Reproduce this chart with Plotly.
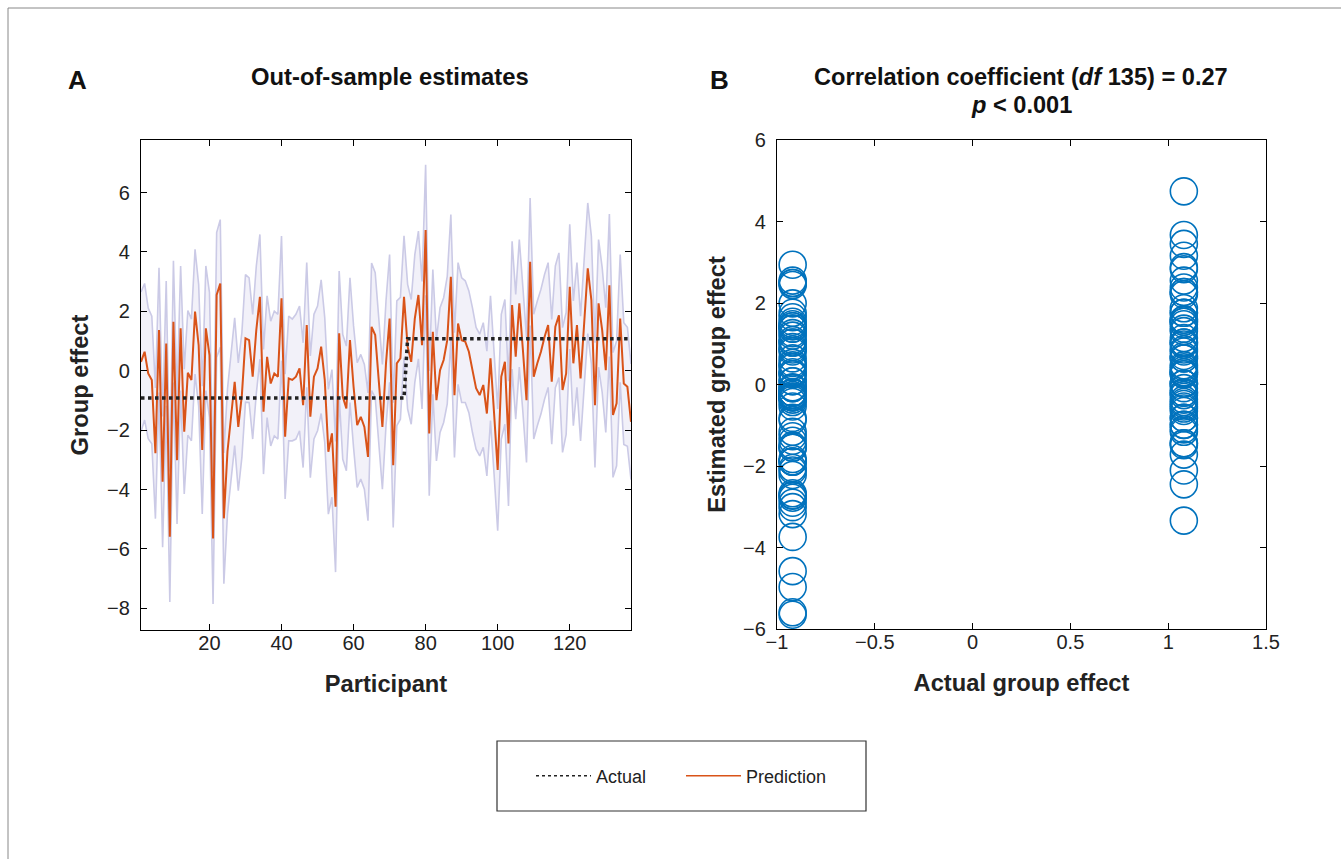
import plotly.graph_objects as go

# Participants 1..137
participant = list(range(1, 138))

# Out-of-sample prediction per participant
prediction = [0.3, 0.64, -0.09, -0.31, -2.78, 1.37, -3.74, 0.92, -5.59, 1.65,
              -3.01, 1.43, -2.05, -0.07, -0.31, 1.99, 0.86, -2.67, 1.43, 0.53,
              -5.65, 2.55, 2.94, -4.97, -2.72, -1.5, -0.37, -1.89, -0.82, 1.09,
              1.03, -0.2, 1.37, 2.49, -1.38, 0.47, -0.43, -0.09, -0.2, 2.44,
              -2.22, -0.26, -0.31, -0.2, 0.08, -1.16, 1.54, -1.55, -0.2, 0.08,
              0.81, -0.31, -2.73, -2.11, -4.58, 1.26, -0.88, -1.27, 1.03, -0.54,
              -1.83, -1.55, -1.89, -2.9, 1.48, 1.2, -0.31, -1.89, 0.25, 1.76,
              -3.18, 0.25, 0.42, 2.49, 0.81, 0.3, 1.76, 2.55, 0.86, 4.74,
              -2.11, 1.31, -0.99, 0.02, 0.36, 1.03, 3.16, -0.82, 1.59, 1.03,
              0.98, 0.64, 0.02, -0.59, -0.82, -0.48, -1.44, 0.42, -1.44, -3.34,
              -0.2, 0.3, -2.45, 2.21, 0.47, 2.27, 0.7, -0.99, 3.67, -0.2,
              0.25, 0.64, 1.14, 1.54, -0.37, 1.48, 1.87, -0.65, -0.09, 2.83,
              0.25, 1.54, -0.26, 1.59, 3.45, 2.38, -1.16, 2.27, 1.37, 0.02,
              2.88, -1.49, -1.1, 1.76, -0.43, -0.54, -1.72]

# Half-width of the shaded interval around the prediction
halfwidth = [2.35, 2.3, 2.2, 2.15, 2.2, 2.1, 2.2, 2.1, 2.2, 2.05,
             2.15, 2.1, 2.1, 2.1, 2.05, 2.1, 2.05, 2.15, 2.1, 2.1,
             2.2, 2.1, 2.15, 2.2, 2.1, 2.1, 2.15, 2.15, 2.1, 2.15,
             2.1, 2.1, 2.15, 2.1, 2.1, 2.05, 2.1, 2.1, 2.1, 2.1,
             2.1, 2.1, 2.05, 2.1, 2.1, 2.1, 2.1, 2.05, 2.1, 2.1,
             2.25, 2.1, 2.1, 2.15, 2.2, 2.1, 2.1, 2.1, 2.1, 2.05,
             2.1, 2.1, 2.1, 2.15, 2.15, 2.1, 2.1, 2.1, 2.1, 2.15,
             2.1, 2.1, 2.05, 2.05, 2.1, 2.1, 2.15, 2.15, 2.15, 2.2,
             2.1, 2.1, 2.05, 2.1, 2.1, 2.15, 2.1, 2.1, 2.05, 2.1,
             2.05, 2.05, 2.1, 2.05, 2.05, 2.1, 2.1, 2.1, 2.05, 2.05,
             2.1, 2.1, 2.1, 2.15, 2.1, 2.15, 2.1, 2.1, 2.15, 2.1,
             2.1, 2.1, 2.1, 2.1, 2.1, 2.05, 2.1, 2.1, 2.05, 2.1,
             2.1, 2.1, 2.1, 2.1, 2.2, 2.15, 2.1, 2.15, 2.1, 2.1,
             2.4, 2.1, 2.1, 2.15, 2.05, 2.0, 1.95]

# Actual (centred) group effect: 74 in group 1, 63 in group 2
group1_value, group1_n = -0.92, 74
group2_value, group2_n = 1.08, 63
actual = [group1_value] * group1_n + [group2_value] * group2_n

upper = [p + h for p, h in zip(prediction, halfwidth)]
lower = [p - h for p, h in zip(prediction, halfwidth)]

W, H = 1341, 859
FONT = "Liberation Sans, Arial, sans-serif"
TXT = "#222222"
ORANGE = "#D95319"
BLUE = "#0072BD"
BAND_LINE = "#CBCAE6"
BAND_FILL = "#F2F1F9"


def px(x):
    return x / W


def py(y):
    return 1 - y / H


fig = go.Figure()

# Panel A: interval band
fig.add_trace(go.Scatter(x=participant, y=lower, mode="lines",
                         line=dict(color=BAND_LINE, width=1.6),
                         showlegend=False, hoverinfo="skip",
                         xaxis="x", yaxis="y"))
fig.add_trace(go.Scatter(x=participant, y=upper, mode="lines",
                         line=dict(color=BAND_LINE, width=1.6),
                         fill="tonexty", fillcolor=BAND_FILL,
                         showlegend=False, hoverinfo="skip",
                         xaxis="x", yaxis="y"))
# Prediction line
fig.add_trace(go.Scatter(x=participant, y=prediction, mode="lines", showlegend=False,
                         line=dict(color=ORANGE, width=2),
                         xaxis="x", yaxis="y"))
# Actual (dotted)
fig.add_trace(go.Scatter(x=participant, y=actual, mode="lines", showlegend=False,
                         line=dict(color="#222222", width=3.5, dash="dot"),
                         xaxis="x", yaxis="y"))

# Legend entries (thin line samples like the reference legend)
fig.add_trace(go.Scatter(x=[None], y=[None], mode="lines", name="Actual",
                         line=dict(color="#222222", width=1.5, dash="dot"),
                         xaxis="x", yaxis="y"))
fig.add_trace(go.Scatter(x=[None], y=[None], mode="lines", name="Prediction",
                         line=dict(color=ORANGE, width=1.5),
                         xaxis="x", yaxis="y"))

# Panel B: estimated vs actual
fig.add_trace(go.Scatter(x=actual, y=prediction, mode="markers", showlegend=False,
                         marker=dict(symbol="circle-open", size=27, color=BLUE,
                                     line=dict(color=BLUE, width=1.6)),
                         xaxis="x2", yaxis="y2"))

axis_common = dict(showline=True, linecolor="black", linewidth=1.2, mirror="ticks",
                   ticks="inside", ticklen=6, tickwidth=1.2, tickcolor="black",
                   showgrid=False, zeroline=False, automargin=False,
                   tickfont=dict(family=FONT, size=20, color=TXT))
title_font = dict(family=FONT, size=23.7, weight="bold", color=TXT)

fig.update_layout(
    width=W, height=H,
    margin=dict(l=0, r=0, t=0, b=0),
    plot_bgcolor="white", paper_bgcolor="white",
    font=dict(family=FONT, color=TXT),
    xaxis=dict(domain=[px(141), px(631)], anchor="y", range=[1, 137],
               tickvals=[20, 40, 60, 80, 100, 120], ticklabelstandoff=-5,
               title=dict(text="Participant", standoff=22, font=title_font),
               **axis_common),
    yaxis=dict(domain=[py(630), py(140)], anchor="x", range=[-8.73, 7.77],
               tickvals=[-8, -6, -4, -2, 0, 2, 4, 6], ticklabelstandoff=6,
               title=dict(text="Group effect", standoff=11, font=title_font),
               **axis_common),
    xaxis2=dict(domain=[px(777), px(1266)], anchor="y2", range=[-1, 1.5],
                tickvals=[-1, -0.5, 0, 0.5, 1, 1.5], ticklabelstandoff=-5,
                title=dict(text="Actual group effect", standoff=22, font=title_font),
                **axis_common),
    yaxis2=dict(domain=[py(629), py(140)], anchor="x2", range=[-6, 6],
                tickvals=[-6, -4, -2, 0, 2, 4, 6], ticklabelstandoff=6,
                title=dict(text="Estimated group effect", standoff=10, font=title_font),
                **axis_common),
    legend=dict(orientation="h", x=px(681), y=py(776), xanchor="center", yanchor="middle",
                bgcolor="rgba(0,0,0,0)", borderwidth=0, traceorder="normal",
                font=dict(family=FONT, size=18, color=TXT),
                entrywidth=80, itemwidth=55),
    showlegend=True,
)

# Titles and panel letters
ann = [
    dict(text="<b>A</b>", x=px(77), y=py(80), size=26),
    dict(text="<b>Out-of-sample estimates</b>", x=px(390), y=py(77), size=23.8),
    dict(text="<b>B</b>", x=px(719), y=py(80), size=26),
    dict(text="<b>Correlation coefficient (<i>df</i> 135) = 0.27</b>", x=px(1021), y=py(77), size=23.6),
    dict(text="<b><i>p</i> < 0.001</b>", x=px(1021), y=py(105), size=23.6),
]
for a in ann:
    fig.add_annotation(text=a["text"], x=a["x"], y=a["y"], xref="paper", yref="paper",
                       xanchor="center", yanchor="middle", showarrow=False,
                       font=dict(family=FONT, size=a["size"], color="#111111"))

# Legend box and outer frame
fig.add_shape(type="rect", xref="paper", yref="paper",
              x0=px(497), x1=px(866), y0=py(811), y1=py(741),
              line=dict(color="#333333", width=1.2))
fig.add_shape(type="line", xref="paper", yref="paper", x0=px(8), x1=1, y0=py(8), y1=py(8),
              line=dict(color="#888888", width=1))
fig.add_shape(type="line", xref="paper", yref="paper", x0=px(8), x1=px(8), y0=0, y1=py(8),
              line=dict(color="#888888", width=1))

# page body has a default 8px margin; drop it so the figure sits at the window origin
fig.write_html("out.html", config={"displayModeBar": False},
               post_script="document.body.style.margin='0';")
